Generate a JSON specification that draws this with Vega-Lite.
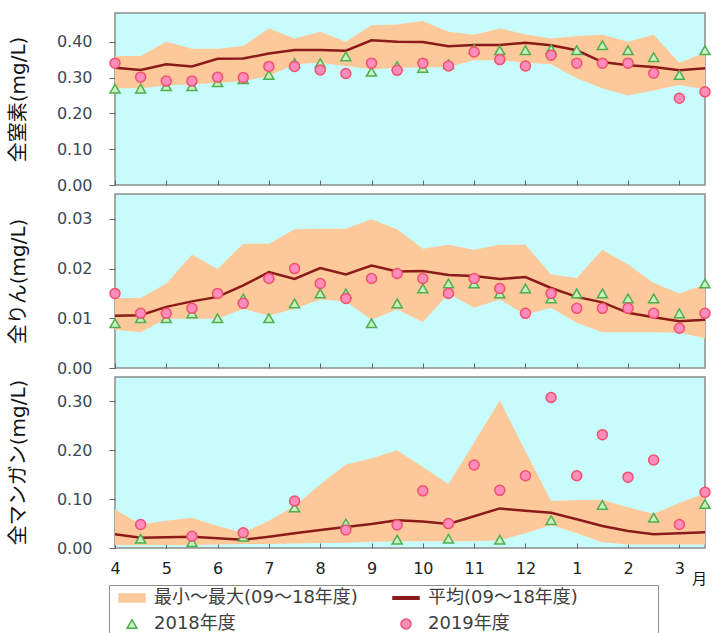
{
  "$schema": "https://vega.github.io/schema/vega-lite/v6.json",
  "padding": {"left": 7, "top": 12, "right": 2, "bottom": 0},
  "spacing": 9,
  "bounds": "flush",
  "background": "white",
  "datasets": {
    "band": [
      {"p":"N","t":0,"min":0.270,"max":0.360,"mean":0.327},
      {"p":"N","t":0.5,"min":0.270,"max":0.360,"mean":0.321},
      {"p":"N","t":1,"min":0.278,"max":0.400,"mean":0.337},
      {"p":"N","t":1.5,"min":0.281,"max":0.380,"mean":0.331},
      {"p":"N","t":2,"min":0.285,"max":0.380,"mean":0.352},
      {"p":"N","t":2.5,"min":0.290,"max":0.388,"mean":0.353},
      {"p":"N","t":3,"min":0.304,"max":0.437,"mean":0.367},
      {"p":"N","t":3.5,"min":0.337,"max":0.409,"mean":0.377},
      {"p":"N","t":4,"min":0.341,"max":0.428,"mean":0.377},
      {"p":"N","t":4.5,"min":0.332,"max":0.400,"mean":0.375},
      {"p":"N","t":5,"min":0.323,"max":0.446,"mean":0.404},
      {"p":"N","t":5.5,"min":0.327,"max":0.448,"mean":0.400},
      {"p":"N","t":6,"min":0.328,"max":0.458,"mean":0.399},
      {"p":"N","t":6.5,"min":0.329,"max":0.428,"mean":0.387},
      {"p":"N","t":7,"min":0.348,"max":0.419,"mean":0.391},
      {"p":"N","t":7.5,"min":0.348,"max":0.437,"mean":0.391},
      {"p":"N","t":8,"min":0.341,"max":0.420,"mean":0.397},
      {"p":"N","t":8.5,"min":0.337,"max":0.409,"mean":0.390},
      {"p":"N","t":9,"min":0.298,"max":0.416,"mean":0.376},
      {"p":"N","t":9.5,"min":0.270,"max":0.419,"mean":0.343},
      {"p":"N","t":10,"min":0.250,"max":0.400,"mean":0.334},
      {"p":"N","t":10.5,"min":0.264,"max":0.419,"mean":0.329},
      {"p":"N","t":11,"min":0.279,"max":0.341,"mean":0.320},
      {"p":"N","t":11.5,"min":0.267,"max":0.369,"mean":0.326},

      {"p":"P","t":0,"min":0.0077,"max":0.0141,"mean":0.0105},
      {"p":"P","t":0.5,"min":0.0072,"max":0.0141,"mean":0.0106},
      {"p":"P","t":1,"min":0.0099,"max":0.0170,"mean":0.0123},
      {"p":"P","t":1.5,"min":0.0099,"max":0.0228,"mean":0.0134},
      {"p":"P","t":2,"min":0.0099,"max":0.0199,"mean":0.0143},
      {"p":"P","t":2.5,"min":0.0119,"max":0.0250,"mean":0.0166},
      {"p":"P","t":3,"min":0.0105,"max":0.0250,"mean":0.0193},
      {"p":"P","t":3.5,"min":0.0119,"max":0.0279,"mean":0.0179},
      {"p":"P","t":4,"min":0.0138,"max":0.0280,"mean":0.0201},
      {"p":"P","t":4.5,"min":0.0134,"max":0.0280,"mean":0.0188},
      {"p":"P","t":5,"min":0.0097,"max":0.0299,"mean":0.0206},
      {"p":"P","t":5.5,"min":0.0118,"max":0.0279,"mean":0.0194},
      {"p":"P","t":6,"min":0.0092,"max":0.0240,"mean":0.0195},
      {"p":"P","t":6.5,"min":0.0150,"max":0.0248,"mean":0.0187},
      {"p":"P","t":7,"min":0.0121,"max":0.0238,"mean":0.0185},
      {"p":"P","t":7.5,"min":0.0138,"max":0.0248,"mean":0.0179},
      {"p":"P","t":8,"min":0.0107,"max":0.0248,"mean":0.0183},
      {"p":"P","t":8.5,"min":0.0121,"max":0.0188,"mean":0.0161},
      {"p":"P","t":9,"min":0.0091,"max":0.0181,"mean":0.0143},
      {"p":"P","t":9.5,"min":0.0072,"max":0.0238,"mean":0.0132},
      {"p":"P","t":10,"min":0.0072,"max":0.0208,"mean":0.0111},
      {"p":"P","t":10.5,"min":0.0072,"max":0.0171,"mean":0.0102},
      {"p":"P","t":11,"min":0.0071,"max":0.0150,"mean":0.0094},
      {"p":"P","t":11.5,"min":0.0060,"max":0.0168,"mean":0.0097},

      {"p":"M","t":0,"min":0.006,"max":0.079,"mean":0.028},
      {"p":"M","t":0.5,"min":0.006,"max":0.048,"mean":0.021},
      {"p":"M","t":1,"min":0.006,"max":0.056,"mean":0.022},
      {"p":"M","t":1.5,"min":0.006,"max":0.062,"mean":0.023},
      {"p":"M","t":2,"min":0.007,"max":0.045,"mean":0.020},
      {"p":"M","t":2.5,"min":0.008,"max":0.031,"mean":0.017},
      {"p":"M","t":3,"min":0.008,"max":0.056,"mean":0.023},
      {"p":"M","t":3.5,"min":0.009,"max":0.086,"mean":0.030},
      {"p":"M","t":4,"min":0.010,"max":0.130,"mean":0.037},
      {"p":"M","t":4.5,"min":0.011,"max":0.171,"mean":0.043},
      {"p":"M","t":5,"min":0.013,"max":0.183,"mean":0.049},
      {"p":"M","t":5.5,"min":0.014,"max":0.200,"mean":0.057},
      {"p":"M","t":6,"min":0.014,"max":0.166,"mean":0.054},
      {"p":"M","t":6.5,"min":0.014,"max":0.131,"mean":0.049},
      {"p":"M","t":7,"min":0.014,"max":0.216,"mean":0.065},
      {"p":"M","t":7.5,"min":0.016,"max":0.302,"mean":0.081},
      {"p":"M","t":8,"min":0.030,"max":0.198,"mean":0.076},
      {"p":"M","t":8.5,"min":0.047,"max":0.096,"mean":0.072},
      {"p":"M","t":9,"min":0.030,"max":0.098,"mean":0.059},
      {"p":"M","t":9.5,"min":0.012,"max":0.099,"mean":0.045},
      {"p":"M","t":10,"min":0.007,"max":0.083,"mean":0.035},
      {"p":"M","t":10.5,"min":0.007,"max":0.070,"mean":0.028},
      {"p":"M","t":11,"min":0.007,"max":0.092,"mean":0.030},
      {"p":"M","t":11.5,"min":0.007,"max":0.112,"mean":0.032}
    ],
    "pts": [
      {"p":"N","s":"2018年度","t":0,"v":0.269},
      {"p":"N","s":"2018年度","t":0.5,"v":0.269},
      {"p":"N","s":"2018年度","t":1,"v":0.276},
      {"p":"N","s":"2018年度","t":1.5,"v":0.276},
      {"p":"N","s":"2018年度","t":2,"v":0.287},
      {"p":"N","s":"2018年度","t":2.5,"v":0.295},
      {"p":"N","s":"2018年度","t":3,"v":0.307},
      {"p":"N","s":"2018年度","t":3.5,"v":0.340},
      {"p":"N","s":"2018年度","t":4,"v":0.340},
      {"p":"N","s":"2018年度","t":4.5,"v":0.359},
      {"p":"N","s":"2018年度","t":5,"v":0.316},
      {"p":"N","s":"2018年度","t":5.5,"v":0.332},
      {"p":"N","s":"2018年度","t":6,"v":0.327},
      {"p":"N","s":"2018年度","t":6.5,"v":0.337},
      {"p":"N","s":"2018年度","t":7,"v":0.379},
      {"p":"N","s":"2018年度","t":7.5,"v":0.376},
      {"p":"N","s":"2018年度","t":8,"v":0.376},
      {"p":"N","s":"2018年度","t":8.5,"v":0.379},
      {"p":"N","s":"2018年度","t":9,"v":0.376},
      {"p":"N","s":"2018年度","t":9.5,"v":0.390},
      {"p":"N","s":"2018年度","t":10,"v":0.376},
      {"p":"N","s":"2018年度","t":10.5,"v":0.357},
      {"p":"N","s":"2018年度","t":11,"v":0.307},
      {"p":"N","s":"2018年度","t":11.5,"v":0.376},
      {"p":"N","s":"2019年度","t":0,"v":0.340},
      {"p":"N","s":"2019年度","t":0.5,"v":0.301},
      {"p":"N","s":"2019年度","t":1,"v":0.290},
      {"p":"N","s":"2019年度","t":1.5,"v":0.290},
      {"p":"N","s":"2019年度","t":2,"v":0.301},
      {"p":"N","s":"2019年度","t":2.5,"v":0.300},
      {"p":"N","s":"2019年度","t":3,"v":0.331},
      {"p":"N","s":"2019年度","t":3.5,"v":0.331},
      {"p":"N","s":"2019年度","t":4,"v":0.321},
      {"p":"N","s":"2019年度","t":4.5,"v":0.311},
      {"p":"N","s":"2019年度","t":5,"v":0.340},
      {"p":"N","s":"2019年度","t":5.5,"v":0.320},
      {"p":"N","s":"2019年度","t":6,"v":0.340},
      {"p":"N","s":"2019年度","t":6.5,"v":0.332},
      {"p":"N","s":"2019年度","t":7,"v":0.371},
      {"p":"N","s":"2019年度","t":7.5,"v":0.350},
      {"p":"N","s":"2019年度","t":8,"v":0.332},
      {"p":"N","s":"2019年度","t":8.5,"v":0.362},
      {"p":"N","s":"2019年度","t":9,"v":0.340},
      {"p":"N","s":"2019年度","t":9.5,"v":0.340},
      {"p":"N","s":"2019年度","t":10,"v":0.340},
      {"p":"N","s":"2019年度","t":10.5,"v":0.312},
      {"p":"N","s":"2019年度","t":11,"v":0.242},
      {"p":"N","s":"2019年度","t":11.5,"v":0.260},

      {"p":"P","s":"2018年度","t":0,"v":0.009},
      {"p":"P","s":"2018年度","t":0.5,"v":0.010},
      {"p":"P","s":"2018年度","t":1,"v":0.010},
      {"p":"P","s":"2018年度","t":1.5,"v":0.011},
      {"p":"P","s":"2018年度","t":2,"v":0.010},
      {"p":"P","s":"2018年度","t":2.5,"v":0.014},
      {"p":"P","s":"2018年度","t":3,"v":0.010},
      {"p":"P","s":"2018年度","t":3.5,"v":0.013},
      {"p":"P","s":"2018年度","t":4,"v":0.015},
      {"p":"P","s":"2018年度","t":4.5,"v":0.015},
      {"p":"P","s":"2018年度","t":5,"v":0.009},
      {"p":"P","s":"2018年度","t":5.5,"v":0.013},
      {"p":"P","s":"2018年度","t":6,"v":0.016},
      {"p":"P","s":"2018年度","t":6.5,"v":0.017},
      {"p":"P","s":"2018年度","t":7,"v":0.017},
      {"p":"P","s":"2018年度","t":7.5,"v":0.015},
      {"p":"P","s":"2018年度","t":8,"v":0.016},
      {"p":"P","s":"2018年度","t":8.5,"v":0.014},
      {"p":"P","s":"2018年度","t":9,"v":0.015},
      {"p":"P","s":"2018年度","t":9.5,"v":0.015},
      {"p":"P","s":"2018年度","t":10,"v":0.014},
      {"p":"P","s":"2018年度","t":10.5,"v":0.014},
      {"p":"P","s":"2018年度","t":11,"v":0.011},
      {"p":"P","s":"2018年度","t":11.5,"v":0.017},
      {"p":"P","s":"2019年度","t":0,"v":0.015},
      {"p":"P","s":"2019年度","t":0.5,"v":0.011},
      {"p":"P","s":"2019年度","t":1,"v":0.011},
      {"p":"P","s":"2019年度","t":1.5,"v":0.012},
      {"p":"P","s":"2019年度","t":2,"v":0.015},
      {"p":"P","s":"2019年度","t":2.5,"v":0.013},
      {"p":"P","s":"2019年度","t":3,"v":0.018},
      {"p":"P","s":"2019年度","t":3.5,"v":0.020},
      {"p":"P","s":"2019年度","t":4,"v":0.017},
      {"p":"P","s":"2019年度","t":4.5,"v":0.014},
      {"p":"P","s":"2019年度","t":5,"v":0.018},
      {"p":"P","s":"2019年度","t":5.5,"v":0.019},
      {"p":"P","s":"2019年度","t":6,"v":0.018},
      {"p":"P","s":"2019年度","t":6.5,"v":0.015},
      {"p":"P","s":"2019年度","t":7,"v":0.018},
      {"p":"P","s":"2019年度","t":7.5,"v":0.016},
      {"p":"P","s":"2019年度","t":8,"v":0.011},
      {"p":"P","s":"2019年度","t":8.5,"v":0.015},
      {"p":"P","s":"2019年度","t":9,"v":0.012},
      {"p":"P","s":"2019年度","t":9.5,"v":0.012},
      {"p":"P","s":"2019年度","t":10,"v":0.012},
      {"p":"P","s":"2019年度","t":10.5,"v":0.011},
      {"p":"P","s":"2019年度","t":11,"v":0.008},
      {"p":"P","s":"2019年度","t":11.5,"v":0.011},

      {"p":"M","s":"2018年度","t":0.5,"v":0.019},
      {"p":"M","s":"2018年度","t":1.5,"v":0.012},
      {"p":"M","s":"2018年度","t":2.5,"v":0.023},
      {"p":"M","s":"2018年度","t":3.5,"v":0.083},
      {"p":"M","s":"2018年度","t":4.5,"v":0.050},
      {"p":"M","s":"2018年度","t":5.5,"v":0.017},
      {"p":"M","s":"2018年度","t":6.5,"v":0.019},
      {"p":"M","s":"2018年度","t":7.5,"v":0.017},
      {"p":"M","s":"2018年度","t":8.5,"v":0.057},
      {"p":"M","s":"2018年度","t":9.5,"v":0.088},
      {"p":"M","s":"2018年度","t":10.5,"v":0.062},
      {"p":"M","s":"2018年度","t":11.5,"v":0.090},
      {"p":"M","s":"2019年度","t":0.5,"v":0.048},
      {"p":"M","s":"2019年度","t":1.5,"v":0.024},
      {"p":"M","s":"2019年度","t":2.5,"v":0.031},
      {"p":"M","s":"2019年度","t":3.5,"v":0.096},
      {"p":"M","s":"2019年度","t":4.5,"v":0.037},
      {"p":"M","s":"2019年度","t":5.5,"v":0.047},
      {"p":"M","s":"2019年度","t":6,"v":0.117},
      {"p":"M","s":"2019年度","t":6.5,"v":0.050},
      {"p":"M","s":"2019年度","t":7,"v":0.170},
      {"p":"M","s":"2019年度","t":7.5,"v":0.118},
      {"p":"M","s":"2019年度","t":8,"v":0.148},
      {"p":"M","s":"2019年度","t":8.5,"v":0.308},
      {"p":"M","s":"2019年度","t":9,"v":0.148},
      {"p":"M","s":"2019年度","t":9.5,"v":0.232},
      {"p":"M","s":"2019年度","t":10,"v":0.145},
      {"p":"M","s":"2019年度","t":10.5,"v":0.180},
      {"p":"M","s":"2019年度","t":11,"v":0.048},
      {"p":"M","s":"2019年度","t":11.5,"v":0.114}
    ]
  },
  "config": {
    "view": {"fill": "#c8fcfc", "stroke": "#8c8c8c", "strokeWidth": 1.5},
    "axis": {
      "grid": false,
      "domain": false,
      "tickColor": "#666666",
      "tickWidth": 1,
      "labelFont": "DejaVu Sans",
      "labelFontSize": 16,
      "titleFont": "DejaVu Sans, Noto Sans CJK JP",
      "titleFontSize": 20,
      "titleFontWeight": "normal",
      "titleColor": "#111111"
    },
    "axisY": {"labelColor": "#3c4854", "tickSize": 6, "labelPadding": 17},
    "axisX": {"labelColor": "#222222", "tickSize": -5, "labelPadding": 17, "labelOverlap": false, "labelFlush": false},
    "legend": {
      "labelFont": "DejaVu Sans, Noto Sans CJK JP",
      "labelFontSize": 18,
      "labelColor": "#404040",
      "labelLimit": 600,
      "strokeColor": "#8c8c8c",
      "padding": 4,
      "symbolOffset": 10,
      "symbolSize": 100,
      "symbolStrokeWidth": 1.5,
      "labelOffset": 13,
      "columnPadding": 29,
      "rowPadding": 8
    }
  },
  "resolve": {"scale": {"fill": "shared", "stroke": "shared", "shape": "shared"}},
  "vconcat": [
    {
      "width": 590,
      "height": 172,
      "layer": [
        {
          "data": {"name": "band"},
          "transform": [{"filter": "datum.p == 'N'"}],
          "mark": {"type": "area", "color": "#fdc99a", "opacity": 1},
          "encoding": {
            "x": {"field": "t", "type": "quantitative", "scale": {"domain": [0, 11.5], "nice": false, "zero": false},
                  "axis": {"values": [0,0.5,1,1.5,2,2.5,3,3.5,4,4.5,5,5.5,6,6.5,7,7.5,8,8.5,9,9.5,10,10.5,11,11.5], "labels": false, "title": null}},
            "y": {"field": "max", "type": "quantitative", "scale": {"domain": [0, 0.48], "nice": false},
                  "axis": {"title": "全窒素(mg/L)", "values": [0, 0.1, 0.2, 0.3, 0.4], "format": ".2f", "titleX": -97, "titleY": 86, "titleAngle": -90, "titleBaseline": "middle", "titleAlign": "center"}},
            "y2": {"field": "min"}
          }
        },
        {
          "data": {"name": "band"},
          "transform": [{"filter": "datum.p == 'N'"}],
          "mark": {"type": "line", "color": "#8b1a1a", "strokeWidth": 2.5},
          "encoding": {
            "x": {"field": "t", "type": "quantitative"},
            "y": {"field": "mean", "type": "quantitative"}
          }
        },
        {
          "data": {"name": "pts"},
          "transform": [{"filter": "datum.p == 'N'"}],
          "mark": {"type": "point", "filled": true, "opacity": 1, "size": 100, "strokeWidth": 1.5},
          "encoding": {
            "x": {"field": "t", "type": "quantitative"},
            "y": {"field": "v", "type": "quantitative"},
            "fill": {"field": "s", "type": "nominal", "scale": {"domain": ["最小～最大(09～18年度)", "2018年度", "平均(09～18年度)", "2019年度"], "range": ["#fdc99a", "#c6f2bf", "#8b1a1a", "#ff8cba"]}, "legend": {"title": null, "orient": "none", "legendX": -6, "legendY": 572, "columns": 2, "labelExpr": "datum.label + (datum.index == 2 ? '\u2003\u2003\u2003\u2003\u2009\u200b' : '')"}},
            "stroke": {"field": "s", "type": "nominal", "scale": {"domain": ["最小～最大(09～18年度)", "2018年度", "平均(09～18年度)", "2019年度"], "range": ["#fdc99a", "#4fae4f", "#8b1a1a", "#f2506f"]}, "legend": {"title": null, "orient": "none", "legendX": -6, "legendY": 572, "columns": 2, "labelExpr": "datum.label + (datum.index == 2 ? '\u2003\u2003\u2003\u2003\u2009\u200b' : '')"}},
            "shape": {"field": "s", "type": "nominal", "scale": {"domain": ["最小～最大(09～18年度)", "2018年度", "平均(09～18年度)", "2019年度"], "range": ["M-2.6,-0.8H2.6V0.8H-2.6Z", "triangle-up", "M-2.6,-0.25H2.6V0.25H-2.6Z", "circle"]}, "legend": {"title": null, "orient": "none", "legendX": -6, "legendY": 572, "columns": 2, "labelExpr": "datum.label + (datum.index == 2 ? '\u2003\u2003\u2003\u2003\u2009\u200b' : '')"}}
          }
        }
      ]
    },
    {
      "width": 590,
      "height": 174,
      "layer": [
        {
          "data": {"name": "band"},
          "transform": [{"filter": "datum.p == 'P'"}],
          "mark": {"type": "area", "color": "#fdc99a", "opacity": 1},
          "encoding": {
            "x": {"field": "t", "type": "quantitative", "scale": {"domain": [0, 11.5], "nice": false, "zero": false},
                  "axis": {"values": [0,0.5,1,1.5,2,2.5,3,3.5,4,4.5,5,5.5,6,6.5,7,7.5,8,8.5,9,9.5,10,10.5,11,11.5], "labels": false, "title": null}},
            "y": {"field": "max", "type": "quantitative", "scale": {"domain": [0, 0.035], "nice": false},
                  "axis": {"title": "全りん(mg/L)", "values": [0, 0.01, 0.02, 0.03], "format": ".2f", "titleX": -97, "titleY": 87, "titleAngle": -90, "titleBaseline": "middle", "titleAlign": "center"}},
            "y2": {"field": "min"}
          }
        },
        {
          "data": {"name": "band"},
          "transform": [{"filter": "datum.p == 'P'"}],
          "mark": {"type": "line", "color": "#8b1a1a", "strokeWidth": 2.5},
          "encoding": {
            "x": {"field": "t", "type": "quantitative"},
            "y": {"field": "mean", "type": "quantitative"}
          }
        },
        {
          "data": {"name": "pts"},
          "transform": [{"filter": "datum.p == 'P'"}],
          "mark": {"type": "point", "filled": true, "opacity": 1, "size": 100, "strokeWidth": 1.5},
          "encoding": {
            "x": {"field": "t", "type": "quantitative"},
            "y": {"field": "v", "type": "quantitative"},
            "fill": {"field": "s", "type": "nominal", "legend": {"title": null, "orient": "none", "legendX": -6, "legendY": 572, "columns": 2, "labelExpr": "datum.label + (datum.index == 2 ? '\u2003\u2003\u2003\u2003\u2009\u200b' : '')"}},
            "stroke": {"field": "s", "type": "nominal", "legend": {"title": null, "orient": "none", "legendX": -6, "legendY": 572, "columns": 2, "labelExpr": "datum.label + (datum.index == 2 ? '\u2003\u2003\u2003\u2003\u2009\u200b' : '')"}},
            "shape": {"field": "s", "type": "nominal", "legend": {"title": null, "orient": "none", "legendX": -6, "legendY": 572, "columns": 2, "labelExpr": "datum.label + (datum.index == 2 ? '\u2003\u2003\u2003\u2003\u2009\u200b' : '')"}}
          }
        }
      ]
    },
    {
      "width": 590,
      "height": 171,
      "layer": [
        {
          "data": {"name": "band"},
          "transform": [{"filter": "datum.p == 'M'"}],
          "mark": {"type": "area", "color": "#fdc99a", "opacity": 1},
          "encoding": {
            "x": {"field": "t", "type": "quantitative", "scale": {"domain": [0, 11.5], "nice": false, "zero": false},
                  "axis": {"values": [0,0.5,1,1.5,2,2.5,3,3.5,4,4.5,5,5.5,6,6.5,7,7.5,8,8.5,9,9.5,10,10.5,11,11.5],
                           "labelExpr": "datum.value % 1 == 0 ? '' + ((datum.value + 3) % 12 + 1) : ''",
                           "title": "月", "titleX": 584, "titleY": 30, "titleAngle": 0, "titleAlign": "center", "titleBaseline": "middle",
                           "titleFont": "Noto Sans CJK JP", "titleFontSize": 15}},
            "y": {"field": "max", "type": "quantitative", "scale": {"domain": [0, 0.35], "nice": false},
                  "axis": {"title": "全マンガン(mg/L)", "values": [0, 0.1, 0.2, 0.3], "format": ".2f", "titleX": -97, "titleY": 85, "titleAngle": -90, "titleBaseline": "middle", "titleAlign": "center"}},
            "y2": {"field": "min"}
          }
        },
        {
          "data": {"name": "band"},
          "transform": [{"filter": "datum.p == 'M'"}],
          "mark": {"type": "line", "color": "#8b1a1a", "strokeWidth": 2.5},
          "encoding": {
            "x": {"field": "t", "type": "quantitative"},
            "y": {"field": "mean", "type": "quantitative"}
          }
        },
        {
          "data": {"name": "pts"},
          "transform": [{"filter": "datum.p == 'M'"}],
          "mark": {"type": "point", "filled": true, "opacity": 1, "size": 100, "strokeWidth": 1.5},
          "encoding": {
            "x": {"field": "t", "type": "quantitative"},
            "y": {"field": "v", "type": "quantitative"},
            "fill": {"field": "s", "type": "nominal", "legend": {"title": null, "orient": "none", "legendX": -6, "legendY": 572, "columns": 2, "labelExpr": "datum.label + (datum.index == 2 ? '\u2003\u2003\u2003\u2003\u2009\u200b' : '')"}},
            "stroke": {"field": "s", "type": "nominal", "legend": {"title": null, "orient": "none", "legendX": -6, "legendY": 572, "columns": 2, "labelExpr": "datum.label + (datum.index == 2 ? '\u2003\u2003\u2003\u2003\u2009\u200b' : '')"}},
            "shape": {"field": "s", "type": "nominal", "legend": {"title": null, "orient": "none", "legendX": -6, "legendY": 572, "columns": 2, "labelExpr": "datum.label + (datum.index == 2 ? '\u2003\u2003\u2003\u2003\u2009\u200b' : '')"}}
          }
        }
      ]
    }
  ]
}
